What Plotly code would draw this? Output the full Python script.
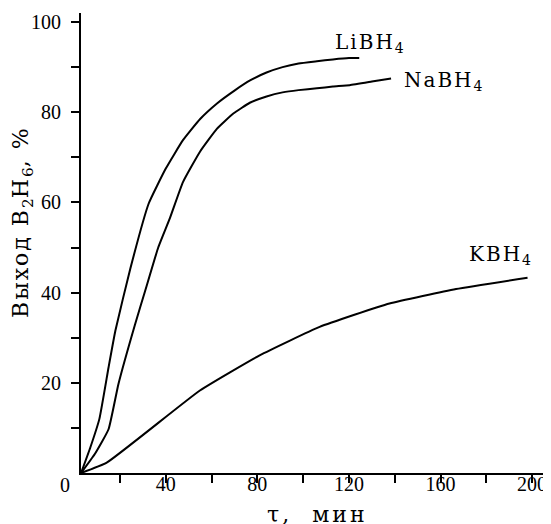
import plotly.graph_objects as go

# Data (tau in minutes, yield in %)
li_tau = [3, 7, 11, 15, 18, 24.5, 32.5, 40, 47.5, 55, 62.5, 70, 77, 84, 91, 98, 106, 113, 120, 124.5]
li_y   = [0, 5.6, 12, 23.4, 31.6, 45.3, 59.7, 67.5, 73.8, 78.5, 82, 84.8, 87.1, 88.8, 90, 90.8, 91.3, 91.7, 92, 92]

na_tau = [3, 9, 15, 19.3, 26.6, 31, 36.7, 41.8, 47.5, 55, 62.3, 69.5, 76.7, 84, 91, 98, 106, 113, 120.3, 130, 138.4]
na_y   = [0, 4.2, 9.7, 19.7, 33, 40.4, 50, 56.5, 64.5, 71.3, 76.3, 79.7, 82.1, 83.5, 84.4, 84.9, 85.3, 85.7, 86, 86.8, 87.5]

k_tau = [3, 14.2, 54.9, 81, 107.2, 137.7, 166.8, 198]
k_y   = [0, 2.3, 18.3, 26.1, 32.4, 37.6, 40.8, 43.3]

x_ticks = [20, 40, 60, 80, 100, 120, 140, 160, 180, 200]
x_tick_text = ["", "40", "", "80", "", "120", "", "160", "", "200"]
y_ticks = [10, 20, 30, 40, 50, 60, 70, 80, 90, 100]
y_tick_text = ["", "20", "", "40", "", "60", "", "80", "", "100"]

series = [("LiBH4", li_tau, li_y), ("NaBH4", na_tau, na_y), ("KBH4", k_tau, k_y)]

fig = go.Figure()
for name, xs, ys in series:
    fig.add_trace(go.Scatter(x=xs, y=ys, mode="lines", name=name,
                             line=dict(color="black", width=2, shape="spline", smoothing=0.4),
                             showlegend=False, hoverinfo="skip", cliponaxis=False))

TICK_FAM = "Liberation Serif"
LAB_FAM = "DejaVu Serif"
tick_font = dict(family=TICK_FAM, size=20, color="black")
lab_font = dict(family=LAB_FAM, size=20, color="black")

# page has an 8px body margin: figure is 543x516, plot area at page x 81..547, y 13..473
fig.update_layout(
    width=543, height=516,
    margin=dict(l=73, r=4, t=5, b=51),
    paper_bgcolor="white", plot_bgcolor="white",
    font=dict(family=TICK_FAM, size=20, color="black"),
    xaxis=dict(range=[2.97, 206.5], tickmode="array", tickvals=x_ticks, ticktext=x_tick_text,
               ticks="outside", ticklen=8, tickwidth=2, tickcolor="black",
               showline=True, linecolor="black", linewidth=2, showgrid=False, zeroline=False,
               tickfont=tick_font, automargin=False, ticklabelstandoff=-16),
    yaxis=dict(range=[0, 102], tickmode="array", tickvals=y_ticks, ticktext=y_tick_text,
               ticks="outside", ticklen=8, tickwidth=2, tickcolor="black",
               showline=True, linecolor="black", linewidth=2, showgrid=False, zeroline=False,
               tickfont=tick_font, automargin=False, ticklabelstandoff=6),
)

def px_x(p):
    return (p - 81) / 466.0

def px_y(p):
    return (473 - p) / 460.0

def spaced(s, ls):
    return '<span style="letter-spacing:%spx">%s</span>' % (ls, s)

annots = [
    dict(text=spaced("LiBH", 2) + "<sub>4</sub>", x=px_x(333), y=px_y(43), xanchor="left", yanchor="middle", font=lab_font),
    dict(text=spaced("NaBH", 2) + "<sub>4</sub>", x=px_x(402), y=px_y(81), xanchor="left", yanchor="middle", font=lab_font),
    dict(text=spaced("KBH", 2) + "<sub>4</sub>", x=px_x(467), y=px_y(255), xanchor="left", yanchor="middle", font=lab_font),
    dict(text="0", x=px_x(65), y=px_y(485), xanchor="center", yanchor="middle", font=tick_font),
    dict(text=spaced("τ,  мин", 3), x=px_x(317), y=px_y(514), xanchor="center", yanchor="middle",
         font=dict(family=LAB_FAM, size=22, color="black")),
    dict(text=spaced("Выход B", 2) + "<sub>2</sub>" + spaced("H", 2) + "<sub>6</sub>" + spaced(", %", 2),
         x=px_x(22), y=px_y(222), xanchor="center",
         yanchor="middle", textangle=-90, font=dict(family=LAB_FAM, size=22, color="black")),
]
for a in annots:
    fig.add_annotation(xref="paper", yref="paper", showarrow=False, **a)

fig.write_html("out.html")
